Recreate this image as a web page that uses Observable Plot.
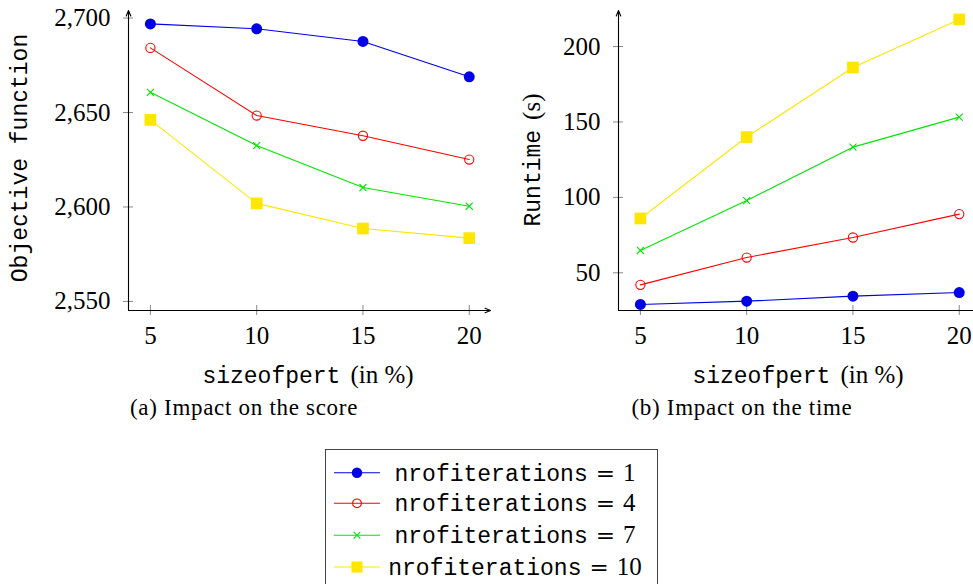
<!DOCTYPE html>
<html><head><meta charset="utf-8">
<script src="https://cdn.jsdelivr.net/npm/d3@7"></script>
<script src="https://cdn.jsdelivr.net/npm/@observablehq/plot@0.6"></script>
<style>
body{margin:0;width:973px;height:584px;overflow:hidden;background:#fff;position:relative;}
.abs{position:absolute;white-space:nowrap;color:#000;}
.tt{font-family:"Liberation Mono",monospace;font-size:23px;}
.rm{font-family:"Liberation Serif",serif;font-size:25px;}
.gap{margin-left:10px;}
.eq{font-family:"DejaVu Serif",serif;font-size:23px;margin:0 8px;}
.cap{font-family:"Liberation Serif",serif;font-size:23px;letter-spacing:0.7px;}
.c{transform:translate(-50%,-50%);}
.rot{transform:translate(-50%,-50%) rotate(-90deg);}
svg{max-width:none !important;}
</style></head><body>
<div id="left" class="abs" style="left:0;top:0;width:500px"></div>
<div id="right" class="abs" style="left:490px;top:0;width:500px"></div>
<div class="abs rot" style="left:21px;top:158px"><span class="tt">Objective function</span></div>
<div class="abs rot" style="left:532px;top:160px"><span class="tt">Runtime</span><span class="rm gap">(s)</span></div>
<div class="abs c" style="left:308px;top:375px"><span class="tt">sizeofpert</span><span class="rm gap">(in %)</span></div>
<div class="abs c" style="left:798px;top:375px"><span class="tt">sizeofpert</span><span class="rm gap">(in %)</span></div>
<div class="abs c cap" style="left:244px;top:408px">(a) Impact on the score</div>
<div class="abs c cap" style="left:742px;top:408px">(b) Impact on the time</div>
<div id="legend" class="abs" style="left:325px;top:449px;width:333px;height:140px;border:1px solid #444;box-sizing:border-box;"></div>
<script>
// ---- data ----
const sizes = [5, 10, 15, 20];
const iterations = [1, 4, 7, 10];
const seriesLabels = ["1", "4", "7", "10"];
// Objective function (score)
const score1  = [2696.9, 2694.3, 2687.6, 2668.9];
const score4  = [2684.2, 2648.4, 2637.7, 2625.1];
const score7  = [2660.7, 2632.5, 2610.3, 2600.4];
const score10 = [2646.1, 2601.9, 2588.6, 2583.5];
// Runtime (s)
const time1  = [29.0, 31.2, 34.5, 36.9];
const time4  = [42.0, 60.1, 73.4, 88.9];
const time7  = [64.8, 97.9, 133.3, 153.2];
const time10 = [86.0, 140.0, 186.1, 218.0];
const scoreTicks = [2550, 2600, 2650, 2700];
const timeTicks = [50, 100, 150, 200];
const xDomain = [3.97, 21];
const scoreDomain = [2545.2, 2704];
const timeDomain = [25, 223.9];

// ---- styles ----
const colors = ["#0000e6", "#ff0000", "#00e600", "#ffe600"];
const symbols = ["circle", "circle", "times", "square"];
const fills = [colors[0], "none", "none", colors[3]];
const radii = [5.5, 4.6, 3.3, 6.6];

function chart(seriesValues, yDomain, yTicks, yFormat) {
  const data = [];
  iterations.forEach((it, i) => sizes.forEach((s, j) => data.push({it, i, s, v: seriesValues[i][j]})));
  const marks = [
    Plot.axisX({ticks: sizes, tickSize: 10, dy: -5, text: null, stroke: "#8a8a8a", label: null}),
    Plot.axisX({ticks: sizes, tickSize: 0, tickPadding: 16, label: null, fill: "#000"}),
    Plot.axisY({ticks: yTicks, tickSize: 10, dx: 5, text: null, stroke: "#8a8a8a", label: null}),
    Plot.axisY({ticks: yTicks, tickSize: 0, tickPadding: 18, tickFormat: yFormat, label: null, fill: "#000"}),
    Plot.arrow([0], {x1: xDomain[0], y1: yDomain[0], x2: xDomain[1], y2: yDomain[0], stroke: "#000", strokeWidth: 1.1, headLength: 8, headAngle: 45}),
    Plot.arrow([0], {x1: xDomain[0], y1: yDomain[0], x2: xDomain[0], y2: yDomain[1], stroke: "#000", strokeWidth: 1.1, headLength: 8, headAngle: 45})
  ];
  iterations.forEach((it, i) => {
    const d = data.filter(r => r.i === i);
    marks.push(Plot.line(d, {x: "s", y: "v", stroke: colors[i], strokeWidth: 1.1}));
    marks.push(Plot.dot(d, {x: "s", y: "v", symbol: symbols[i], r: radii[i],
      fill: fills[i], stroke: colors[i], strokeWidth: (i === 0 || i === 3) ? 0 : 1.1}));
  });
  return Plot.plot({
    width: 500, height: 400,
    marginLeft: 128, marginRight: 10, marginTop: 10, marginBottom: 90,
    x: {domain: xDomain},
    y: {domain: yDomain},
    style: {fontFamily: "Liberation Serif", fontSize: "25px", background: "transparent", overflow: "visible", color: "#000", maxWidth: "none"},
    marks
  });
}

document.getElementById("left").append(
  chart([score1, score4, score7, score10], scoreDomain, scoreTicks, d3.format(",")));
document.getElementById("right").append(
  chart([time1, time4, time7, time10], timeDomain, timeTicks, d3.format("d")));

// ---- legend ----
const lg = document.getElementById("legend");
const rowY = [22.7, 53.3, 85.3, 117];
const svg = d3.create("svg").attr("width", 60).attr("height", 140)
  .style("position", "absolute").style("left", "0px").style("top", "0px");
iterations.forEach((it, i) => {
  const g = svg.append("g").attr("transform", `translate(0,${rowY[i]})`);
  g.append("line").attr("x1", 8).attr("x2", 54).attr("y1", 0).attr("y2", 0)
    .attr("stroke", colors[i]).attr("stroke-width", 1.1);
  const type = {circle: d3.symbolCircle, times: d3.symbolTimes, square: d3.symbolSquare}[symbols[i]];
  const rr = radii[i] * 0.95;
  g.append("path").attr("transform", "translate(31,0)")
    .attr("d", d3.symbol(type, Math.PI * rr * rr)())
    .attr("fill", fills[i]).attr("stroke", fills[i] === "none" ? colors[i] : "none").attr("stroke-width", 1.1);
});
lg.append(svg.node());
iterations.forEach((it, i) => {
  const div = document.createElement("div");
  div.className = "abs c";
  div.style.left = "189px";
  div.style.top = rowY[i] + "px";
  div.innerHTML = `<span class="tt">nrofiterations</span><span class="eq">=</span><span class="rm">${seriesLabels[i]}</span>`;
  lg.append(div);
});
</script>
</body></html>
